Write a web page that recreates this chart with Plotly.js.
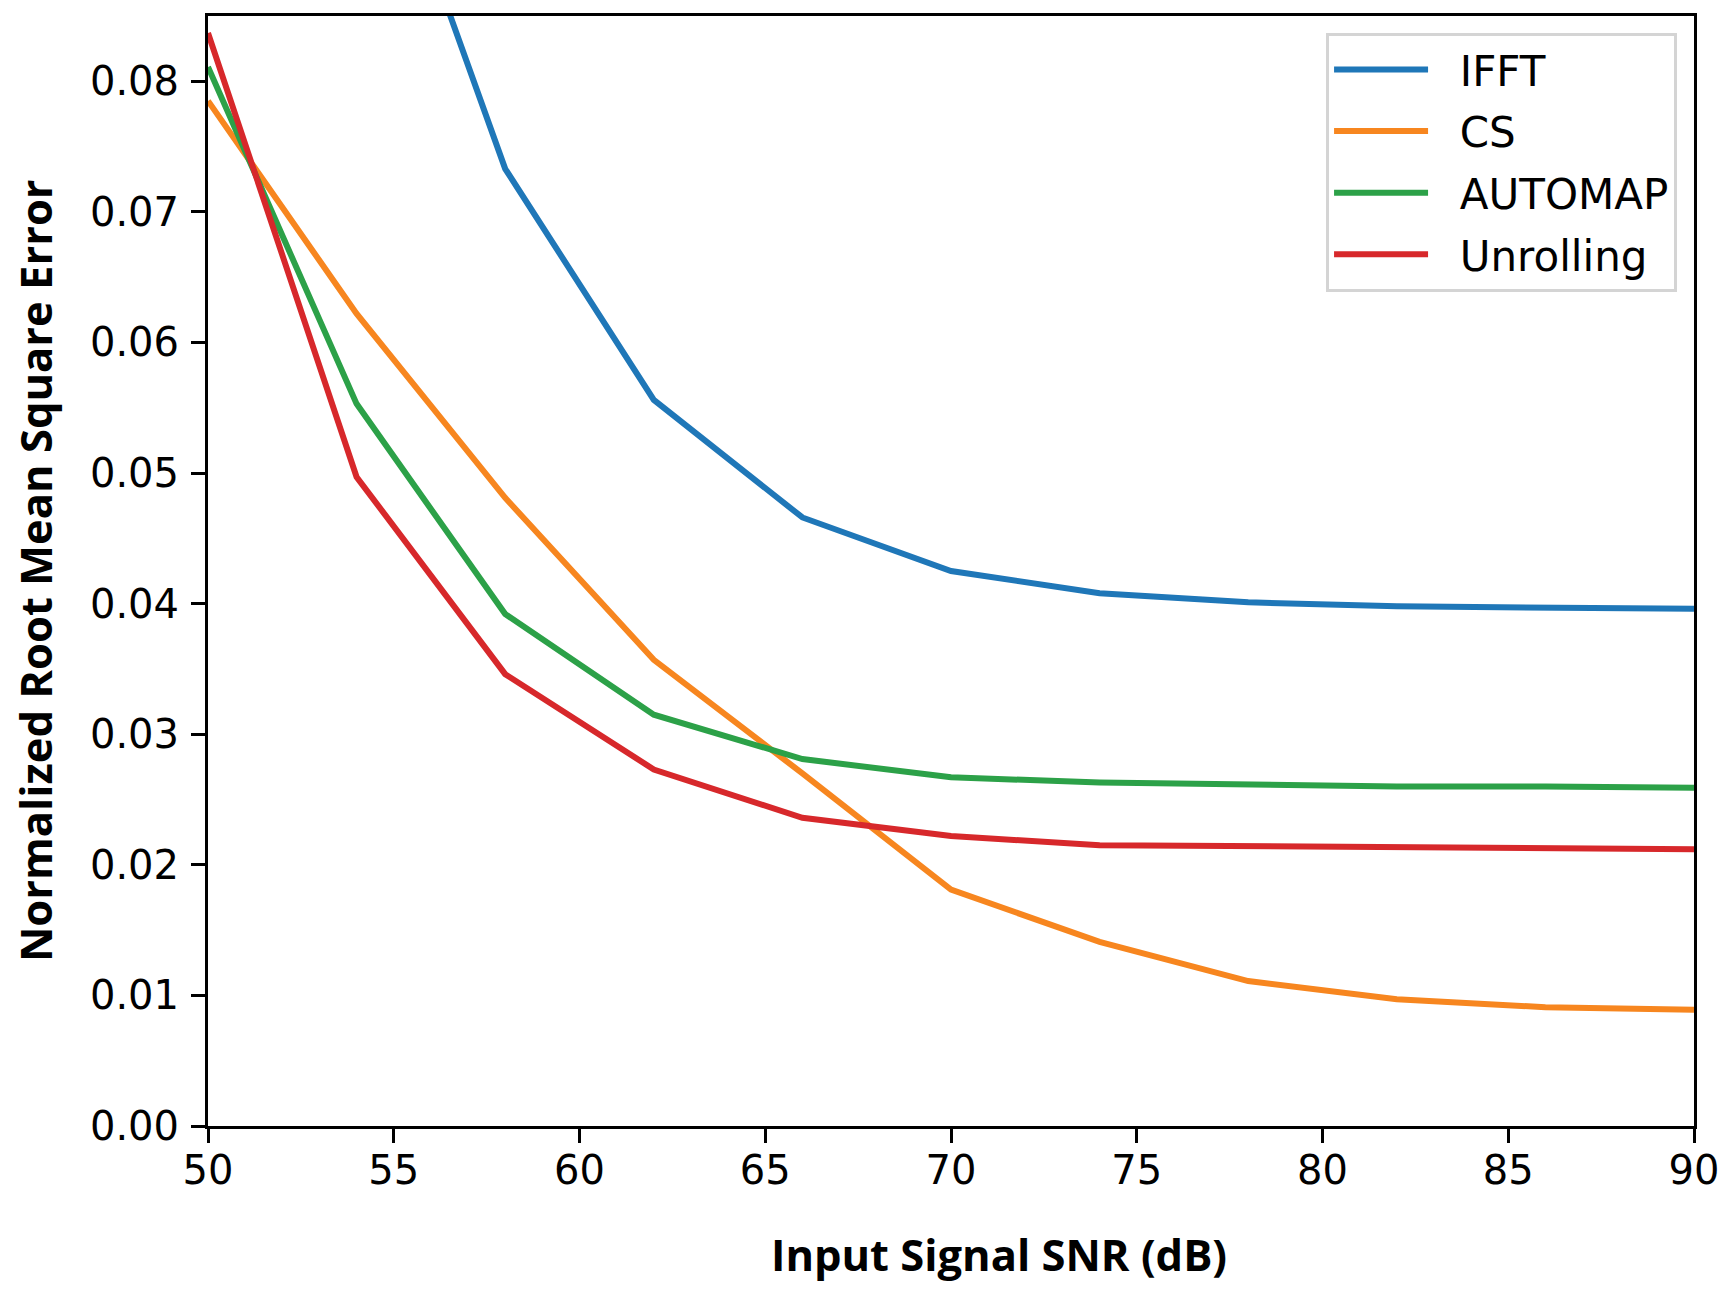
<!DOCTYPE html>
<html>
<head>
<meta charset="utf-8">
<script src="https://cdn.plot.ly/plotly-3.0.1.min.js"></script>
<style>html,body{margin:0;padding:0;background:#fff;}#chart{width:1731px;height:1293px;}</style>
</head>
<body>
<div id="chart"></div>
<script>
const snr = [50, 54, 58, 62, 66, 70, 74, 78, 82, 86, 90];
const ifft = [0.160, 0.105, 0.0733, 0.0556, 0.0466, 0.0425, 0.0408, 0.0401, 0.0398, 0.0397, 0.0396];
const cs = [0.0785, 0.0622, 0.0481, 0.0357, 0.0270, 0.0181, 0.0141, 0.0111, 0.0097, 0.0091, 0.0089];
const automap = [0.0811, 0.0553, 0.0392, 0.0315, 0.0281, 0.0267, 0.0263, 0.0261, 0.0260, 0.0260, 0.0259];
const unrolling = [0.0837, 0.0497, 0.0346, 0.0273, 0.0236, 0.0222, 0.0215, 0.0214, 0.0213, 0.0212, 0.0212];
const seriesNames = ['IFFT', 'CS', 'AUTOMAP', 'Unrolling'];
const seriesColors = ['#1f77b8', '#f7861f', '#2ca148', '#d7282b'];
const seriesValues = [ifft, cs, automap, unrolling];
const xTitle = 'Input Signal SNR (dB)';
const yTitle = 'Normalized Root Mean Square Error';

const traces = seriesValues.map((v, i) => ({
  x: snr, y: v, type: 'scatter', mode: 'lines', name: '\u00a0\u00a0' + seriesNames[i],
  legendgroup: 'g' + i,
  line: {color: seriesColors[i], width: 6}
}));

const tickFont = {family: 'DejaVu Sans', size: 40, color: '#000'};
const titleFont = {family: 'Open Sans', size: 43.5, color: '#000', weight: 700};

const layout = {
  width: 1731, height: 1293,
  margin: {l: 208, r: 37, t: 16, b: 167},
  paper_bgcolor: '#fff', plot_bgcolor: '#fff',
  showlegend: true,
  legend: {
    x: 0.9886, xanchor: 'right', y: 0.985, yanchor: 'top',
    bgcolor: '#fff', bordercolor: '#d4d4d4', borderwidth: 3,
    font: {family: 'DejaVu Sans', size: 42, color: '#000'},
    tracegroupgap: 4, itemwidth: 94
  },
  xaxis: {
    range: [50, 90], dtick: 5, tick0: 50,
    showgrid: false, zeroline: false,
    showline: true, linecolor: '#000', linewidth: 3, mirror: true,
    ticks: 'outside', ticklen: 14, tickwidth: 3, tickcolor: '#000',
    tickfont: tickFont, ticklabelstandoff: -7
  },
  yaxis: {
    range: [0, 0.085], dtick: 0.01, tick0: 0, tickformat: '.2f',
    showgrid: false, zeroline: false,
    showline: true, linecolor: '#000', linewidth: 3, mirror: true,
    ticks: 'outside', ticklen: 14, tickwidth: 3, tickcolor: '#000',
    tickfont: tickFont, ticklabelstandoff: 4
  },
  annotations: [
    {text: xTitle, xref: 'paper', yref: 'paper', x: 0.532, y: -0.116, xanchor: 'center', yanchor: 'middle', showarrow: false, font: titleFont},
    {text: yTitle, xref: 'paper', yref: 'paper', x: -0.1164, y: 0.5, xanchor: 'center', yanchor: 'middle', textangle: -90, showarrow: false, font: titleFont}
  ]
};

Plotly.newPlot('chart', traces, layout, {displayModeBar: false, staticPlot: true});
</script>
</body>
</html>
